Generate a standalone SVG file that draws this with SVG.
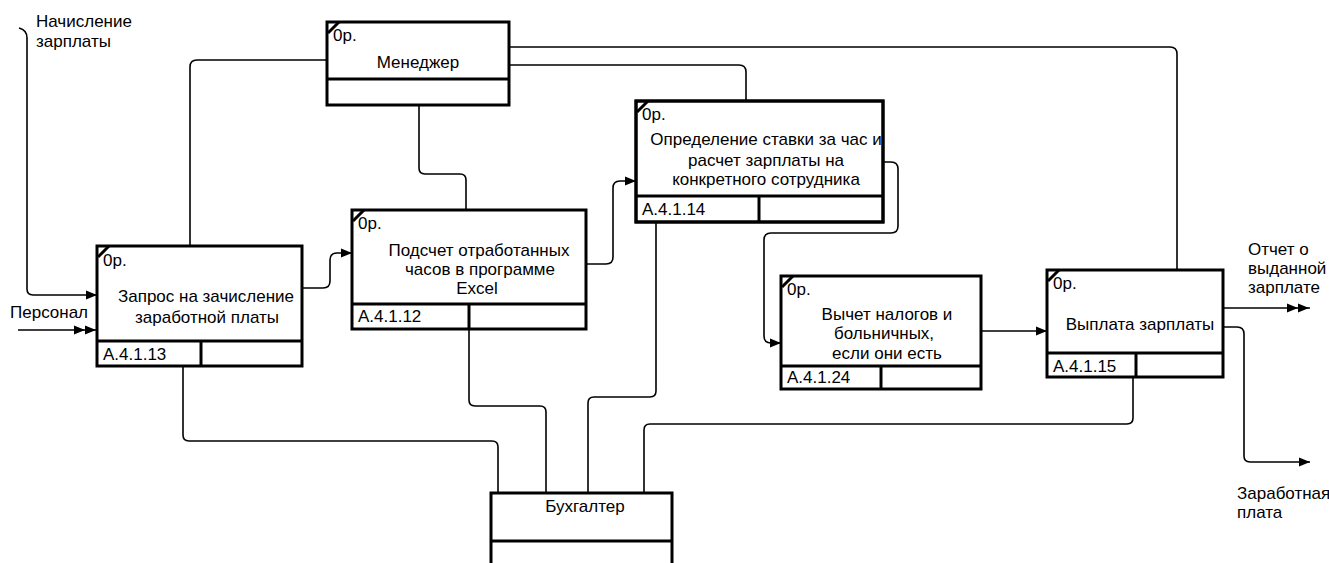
<svg xmlns="http://www.w3.org/2000/svg" width="1329" height="563" viewBox="0 0 1329 563">
<style>
.bx{fill:#fff;stroke:#000;stroke-width:3}
.dv{stroke:#000;stroke-width:3}
.cm{stroke:#000;stroke-width:3}
.t{font-family:"Liberation Sans",Arial,sans-serif;font-size:17px;fill:#000}
.tc{text-anchor:middle}
.cn{fill:none;stroke:#000;stroke-width:1.6}
</style>
<defs>
<marker id="ah" markerWidth="12" markerHeight="10" refX="11" refY="5" orient="auto" markerUnits="userSpaceOnUse"><path d="M0,0.5 L11,5 L0,9.5 Z" fill="#000"/></marker>
<marker id="ah2" markerWidth="24" markerHeight="10" refX="23" refY="5" orient="auto" markerUnits="userSpaceOnUse"><path d="M0,0.5 L11,5 L0,9.5 Z M11,0.5 L22,5 L11,9.5 Z" fill="#000"/></marker>
<clipPath id="c3"><rect x="636" y="101" width="246" height="93"/></clipPath>
</defs>
<rect width="1329" height="563" fill="#fff"/>

<g id="connectors">
<path class="cn" d="M19,28 Q27,30 27,38 L27,289 Q27,295 33,295 L97,295" marker-end="url(#ah)"/>
<path class="cn" d="M18,330 L97,330" marker-end="url(#ah2)"/>
<path class="cn" d="M302,288 L323,288 Q330,288 330,281 L330,260 Q330,253 337,253 L352,253" marker-end="url(#ah)"/>
<path class="cn" d="M586,264 L606,264 Q613,264 613,257 L613,188 Q613,181 620,181 L636,181" marker-end="url(#ah)"/>
<path class="cn" d="M883,162 L891,162 Q898,162 898,169 L898,226 Q898,233 891,233 L771,233 Q764,233 764,240 L764,336 Q764,343 771,343 L781,343" marker-end="url(#ah)"/>
<path class="cn" d="M981,331 L1047,331" marker-end="url(#ah)"/>
<path class="cn" d="M1223,308 L1310,308" marker-end="url(#ah2)"/>
<path class="cn" d="M1223,327 L1237,327 Q1244,327 1244,334 L1244,456 Q1244,462 1250,462 L1310,462" marker-end="url(#ah)"/>
<path class="cn" d="M509,47 L1170,47 Q1177,47 1177,54 L1177,270"/>
<path class="cn" d="M509,65 L739,65 Q746,65 746,72 L746,101"/>
<path class="cn" d="M327,60 L197,60 Q190,60 190,67 L190,246"/>
<path class="cn" d="M419,106 L419,168 Q419,174 425,174 L460,174 Q466,174 466,180 L466,210"/>
<path class="cn" d="M183,367 L183,435 Q183,441 189,441 L492,441 Q498,441 498,447 L498,493"/>
<path class="cn" d="M469,330 L469,400 Q469,406 475,406 L540,406 Q546,406 546,412 L546,493"/>
<path class="cn" d="M656,223 L656,391 Q656,397 650,397 L594,397 Q588,397 588,403 L588,493"/>
<path class="cn" d="M1133,378 L1133,418 Q1133,424 1127,424 L650,424 Q644,424 644,430 L644,493"/>
</g>

<g id="manager">
<rect class="bx" x="327" y="22" width="182" height="83"/>
<line class="dv" x1="327" y1="79" x2="509" y2="79"/>
<line class="cm" x1="328" y1="33" x2="339" y2="22"/>
<text class="t" x="333" y="41">0р.</text>
<text class="t tc" x="418" y="68">Менеджер</text>
</g>

<g id="box-a4113">
<rect class="bx" x="97" y="246" width="205" height="120"/>
<line class="dv" x1="97" y1="341" x2="302" y2="341"/>
<line class="dv" x1="201" y1="341" x2="201" y2="366"/>
<line class="cm" x1="98" y1="257" x2="109" y2="246"/>
<text class="t" x="103" y="266">0р.</text>
<text class="t tc" x="206" y="302">Запрос на зачисление</text>
<text class="t tc" x="207" y="323">заработной платы</text>
<text class="t" x="103" y="360">А.4.1.13</text>
</g>

<g id="box-a4112">
<rect class="bx" x="352" y="210" width="234" height="119"/>
<line class="dv" x1="352" y1="304" x2="586" y2="304"/>
<line class="dv" x1="469" y1="304" x2="469" y2="329"/>
<line class="cm" x1="353" y1="221" x2="364" y2="210"/>
<text class="t" x="358" y="229">0р.</text>
<text class="t tc" x="479" y="256">Подсчет отработанных</text>
<text class="t tc" x="480" y="275">часов в программе</text>
<text class="t tc" x="477" y="294">Excel</text>
<text class="t" x="358" y="322">А.4.1.12</text>
</g>

<g id="box-a4114">
<rect class="bx" x="636" y="101" width="247" height="121"/>
<g clip-path="url(#c3)">
<text class="t tc" x="766" y="145">Определение ставки за час и</text>
<text class="t tc" x="766" y="166">расчет зарплаты на</text>
<text class="t tc" x="766" y="185">конкретного сотрудника</text>
</g>
<rect x="636" y="101" width="247" height="121" fill="none" stroke="#000" stroke-width="3"/>
<line class="dv" x1="636" y1="196" x2="883" y2="196"/>
<line class="dv" x1="759" y1="196" x2="759" y2="222"/>
<line class="cm" x1="637" y1="112" x2="648" y2="101"/>
<text class="t" x="642" y="120">0р.</text>
<text class="t" x="642" y="215">А.4.1.14</text>
</g>

<g id="box-a4124">
<rect class="bx" x="781" y="276" width="200" height="113"/>
<line class="dv" x1="781" y1="366" x2="981" y2="366"/>
<line class="dv" x1="881" y1="366" x2="881" y2="389"/>
<line class="cm" x1="782" y1="287" x2="793" y2="276"/>
<text class="t" x="787" y="295">0р.</text>
<text class="t tc" x="887" y="320">Вычет налогов и</text>
<text class="t tc" x="884" y="339">больничных,</text>
<text class="t tc" x="887" y="359">если они есть</text>
<text class="t" x="787" y="383">А.4.1.24</text>
</g>

<g id="box-a4115">
<rect class="bx" x="1047" y="270" width="176" height="107"/>
<line class="dv" x1="1047" y1="353" x2="1223" y2="353"/>
<line class="dv" x1="1136" y1="353" x2="1136" y2="377"/>
<line class="cm" x1="1048" y1="281" x2="1059" y2="270"/>
<text class="t" x="1053" y="289">0р.</text>
<text class="t tc" x="1140" y="330">Выплата зарплаты</text>
<text class="t" x="1053" y="372">А.4.1.15</text>
</g>

<g id="accountant">
<rect class="bx" x="491" y="493" width="181" height="100"/>
<line class="dv" x1="491" y1="541" x2="672" y2="541"/>
<text class="t tc" x="585" y="512">Бухгалтер</text>
</g>

<g id="labels">
<text class="t" x="36" y="27">Начисление</text>
<text class="t" x="36" y="47">зарплаты</text>
<text class="t" x="10" y="318">Персонал</text>
<text class="t" x="1248" y="255">Отчет о</text>
<text class="t" x="1248" y="274">выданной</text>
<text class="t" x="1248" y="293">зарплате</text>
<text class="t" x="1237" y="499">Заработная</text>
<text class="t" x="1237" y="518">плата</text>
</g>
</svg>
